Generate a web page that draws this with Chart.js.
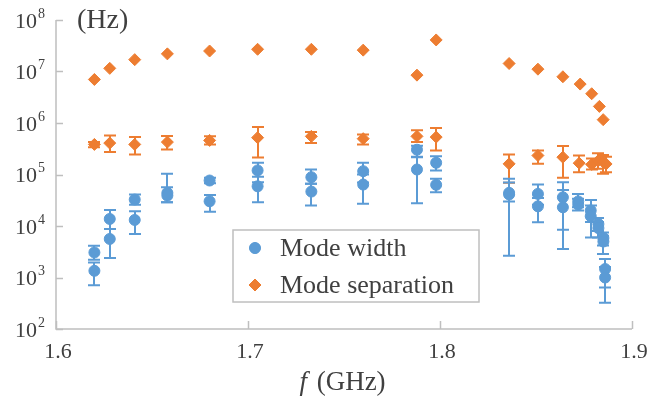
<!DOCTYPE html>
<html><head><meta charset="utf-8">
<script src="https://cdn.jsdelivr.net/npm/chart.js@4.4.1/dist/chart.umd.min.js"></script>
<style>html,body{margin:0;padding:0;background:#fff}#wrap{width:658px;height:398px;position:relative}</style>
</head><body><div id="wrap"><canvas id="c" width="658" height="398"></canvas></div>
<script>
// ---- Data ----
const xTickLabels = [1.6, 1.7, 1.8, 1.9];
const yTickExponents = [2, 3, 4, 5, 6, 7, 8];
const xTitle = ['f', ' (GHz)'];
const yUnit = '(Hz)';
const seriesNames = ['Mode width', 'Mode separation'];

// Mode width (blue circles) with error bars
const widthF  = [1.620,1.620, 1.628,1.628, 1.641,1.641, 1.658,1.658, 1.680,1.680, 1.705,1.705, 1.733,1.733, 1.760,1.760, 1.788,1.788, 1.798,1.798, 1.836,1.836, 1.851,1.851, 1.864,1.864, 1.872,1.872, 1.8785,1.8785, 1.8825,1.8825, 1.8851,1.8851, 1.886,1.886];
const widthVal= [3.06e3,1.35e3, 1.37e4,5.6e3, 3.26e4,1.31e4, 4.4e4,3.9e4, 7.64e4,3.02e4, 1.2e5,5.9e4, 8.86e4,4.66e4, 1.16e5,6.38e4, 3.03e5,1.25e5, 1.69e5,6.3e4, 4.4e4,4.1e4, 4.2e4,2.41e4, 3.61e4,2.31e4, 3.0e4,2.6e4, 2.0e4,1.55e4, 1.09e4,9.1e3, 5.85e3,5.0e3, 1.46e3,1.0e3];
const widthLo = [2.2e3,7.1e2, 8.75e3,2.38e3, 2.6e4,7.0e3, 2.9e4,2.88e4, 6.8e4,1.9e4, 7.1e4,2.88e4, 6.59e4,2.49e4, 7.0e4,2.69e4, 2.2e5,2.76e4, 1.2e5,4.52e4, 2.64e3,3.0e4, 2.6e4,1.18e4, 8.5e3,3.57e3, 2.3e4,1.99e4, 1.2e4,6.0e3, 8.0e3,6.0e3, 4.2e3,2.85e3, 6.4e2,3.25e2];
const widthHi = [4.14e3,1.95e3, 2.05e4,8.75e3, 4.07e4,1.93e4, 1.03e5,5.65e4, 8.6e4,4.02e4, 1.69e5,9.0e4, 1.25e5,6.59e4, 1.69e5,1.0e5, 3.6e5,2.17e5, 2.27e5,8.25e4, 8.25e4,7.0e4, 6.38e4,3.5e4, 7.07e4,5.0e4, 4.2e4,3.4e4, 3.2e4,2.5e4, 1.43e4,1.2e4, 7.5e3,6.5e3, 2.28e3,1.6e3];

// Mode separation (orange diamonds) with error bars
const sepF   = [1.620, 1.628, 1.641, 1.658, 1.680, 1.705, 1.733, 1.760, 1.788, 1.798, 1.836, 1.851, 1.864, 1.8725, 1.879, 1.8825, 1.8851, 1.8865];
const sepVal = [3.84e5, 4.07e5, 3.84e5, 4.26e5, 4.59e5, 5.19e5, 5.5e5, 4.96e5, 5.5e5, 5.33e5, 1.61e5, 2.34e5, 2.17e5, 1.66e5, 1.57e5, 1.87e5, 1.73e5, 1.6e5];
const sepLo  = [3.4e5, 2.72e5, 2.45e5, 3.07e5, 3.84e5, 2.14e5, 4.07e5, 3.84e5, 4.26e5, 2.93e5, 6.9e4, 1.61e5, 8.6e4, 1.11e5, 1.25e5, 1.3e5, 1.03e5, 1.1e5];
const sepHi  = [4.3e5, 5.75e5, 5.33e5, 5.58e5, 5.5e5, 8.34e5, 6.67e5, 6.0e5, 7.2e5, 7.98e5, 2.45e5, 2.93e5, 3.56e5, 2.34e5, 2.05e5, 2.6e5, 2.4e5, 2.2e5];

// Upper mode separation points (orange diamonds, no error bars)
const sepTopF   = [1.620, 1.628, 1.641, 1.658, 1.680, 1.705, 1.733, 1.760, 1.788, 1.798, 1.836, 1.851, 1.864, 1.873, 1.879, 1.883, 1.885];
const sepTopVal = [7.0e6, 1.15e7, 1.7e7, 2.2e7, 2.5e7, 2.7e7, 2.7e7, 2.6e7, 8.5e6, 4.1e7, 1.43e7, 1.11e7, 7.9e6, 5.7e6, 3.7e6, 2.1e6, 1.16e6];

// ---- Styles ----
const BLUE = '#5B9BD5', ORANGE = '#ED7D31', AXIS = '#BFBFBF', TEXT = '#404040';
const SERIF = '"Liberation Serif", "Times New Roman", serif';

const toPts = (xs, ys) => xs.map((x, i) => ({x, y: ys[i]}));

const errors = { 0: {lo: widthLo, hi: widthHi}, 1: {lo: sepLo, hi: sepHi} };

const errorBarPlugin = {
  id: 'errorBars',
  beforeDatasetsDraw(chart) {
    const ctx = chart.ctx, xs = chart.scales.x, ys = chart.scales.y, ca = chart.chartArea;
    ctx.save();
    // axis lines
    ctx.strokeStyle = AXIS; ctx.lineWidth = 1.5;
    ctx.beginPath();
    ctx.moveTo(ca.left, ys.getPixelForValue(Math.pow(10, yTickExponents[yTickExponents.length - 1])));
    ctx.lineTo(ca.left, ca.bottom);
    ctx.lineTo(xs.getPixelForValue(xTickLabels[xTickLabels.length - 1]), ca.bottom);
    ctx.stroke();
    // inward tick marks
    yTickExponents.forEach(ex => {
      const py = Math.round(ys.getPixelForValue(Math.pow(10, ex))) + 0.5;
      ctx.beginPath(); ctx.moveTo(ca.left, py); ctx.lineTo(ca.left + 7, py); ctx.stroke();
    });
    xTickLabels.forEach(v => {
      const px = Math.round(xs.getPixelForValue(v)) + 0.5;
      ctx.beginPath(); ctx.moveTo(px, ca.bottom); ctx.lineTo(px, ca.bottom - 8); ctx.stroke();
    });
    // error bars
    ctx.lineWidth = 2;
    [1, 0].forEach(di => {
      const ds = chart.data.datasets[di];
      const e = errors[di];
      ctx.strokeStyle = ds.borderColor;
      ds.data.forEach((p, i) => {
        const px = Math.round(xs.getPixelForValue(p.x));
        const y1 = ys.getPixelForValue(e.hi[i]);
        const y2 = ys.getPixelForValue(e.lo[i]);
        ctx.beginPath();
        ctx.moveTo(px, y1); ctx.lineTo(px, y2);
        ctx.moveTo(px - 6, y1); ctx.lineTo(px + 6, y1);
        ctx.moveTo(px - 6, y2); ctx.lineTo(px + 6, y2);
        ctx.stroke();
      });
    });
    ctx.restore();
  }
};

const axesPlugin = {
  id: 'axesDecor',
  afterDraw(chart) {
    const ctx = chart.ctx, xs = chart.scales.x, ys = chart.scales.y, ca = chart.chartArea;
    ctx.save();
    // y tick labels 10^n
    ctx.fillStyle = TEXT;
    ctx.textBaseline = 'middle';
    yTickExponents.forEach(ex => {
      const py = ys.getPixelForValue(Math.pow(10, ex));
      ctx.font = '22px ' + SERIF;
      ctx.textAlign = 'right';
      ctx.fillText('10', 37, py + 2);
      ctx.font = '14px ' + SERIF;
      ctx.textAlign = 'left';
      ctx.fillText(String(ex), 38, py - 6);
    });
    // x tick labels
    ctx.font = '22px ' + SERIF;
    ctx.textAlign = 'center';
    xTickLabels.forEach(v => {
      const px = xs.getPixelForValue(v);
      ctx.fillText(v.toFixed(1), px + 2, ca.bottom + 23);
    });
    // x title
    ctx.font = '27px ' + SERIF;
    const w2 = ctx.measureText(xTitle[1]).width;
    ctx.font = 'italic 27px ' + SERIF;
    const w1 = ctx.measureText(xTitle[0]).width;
    const cx = (ca.left + ca.right) / 2 - 3;
    let sx = cx - (w1 + w2) / 2;
    ctx.textAlign = 'left';
    ctx.fillText(xTitle[0], sx, ca.bottom + 54);
    ctx.font = '27px ' + SERIF;
    ctx.fillText(xTitle[1], sx + w1 + 3, ca.bottom + 54);
    // y unit
    ctx.font = '28px ' + SERIF;
    ctx.fillText(yUnit, 77, 21);
    // legend box
    const lx = 233, ly = 230, lw = 246, lh = 72;
    ctx.fillStyle = '#fff';
    ctx.fillRect(lx, ly, lw, lh);
    ctx.strokeStyle = AXIS; ctx.lineWidth = 1.5;
    ctx.strokeRect(lx, ly, lw, lh);
    const items = [
      {name: chart.data.datasets[0].label, color: BLUE, style: 'circle', y: 248, r: 5.5},
      {name: chart.data.datasets[1].label, color: ORANGE, style: 'rectRot', y: 285, r: 6}
    ];
    items.forEach(it => {
      ctx.fillStyle = it.color; ctx.strokeStyle = it.color; ctx.lineWidth = 1;
      Chart.helpers.drawPoint(ctx, {pointStyle: it.style, radius: it.r, borderWidth: 1, rotation: 0}, 255, it.y);
      ctx.fill();
      ctx.fillStyle = TEXT;
      ctx.font = '26px ' + SERIF;
      ctx.textBaseline = 'middle';
      ctx.fillText(it.name, 280, it.y + 1);
    });
    ctx.restore();
  }
};

new Chart(document.getElementById('c'), {
  type: 'scatter',
  data: {
    datasets: [
      { label: seriesNames[0], data: toPts(widthF, widthVal), backgroundColor: BLUE, borderColor: BLUE,
        pointStyle: 'circle', pointRadius: 5.5, borderWidth: 1 },
      { label: seriesNames[1], data: toPts(sepF, sepVal), backgroundColor: ORANGE, borderColor: ORANGE,
        pointStyle: 'rectRot', pointRadius: 6, borderWidth: 1 },
      { label: 'top', data: toPts(sepTopF, sepTopVal), backgroundColor: ORANGE, borderColor: ORANGE,
        pointStyle: 'rectRot', pointRadius: 6, borderWidth: 1 }
    ]
  },
  options: {
    responsive: false,
    animation: false,
    layout: { padding: { left: 56, right: 26, top: 20, bottom: 69 } },
    plugins: { legend: { display: false }, tooltip: { enabled: false } },
    scales: {
      x: { type: 'linear', min: 1.6, max: 1.9, display: false },
      y: { type: 'logarithmic', min: 1e2, max: 1e8, display: false }
    }
  },
  plugins: [errorBarPlugin, axesPlugin]
});
</script>
</body></html>
